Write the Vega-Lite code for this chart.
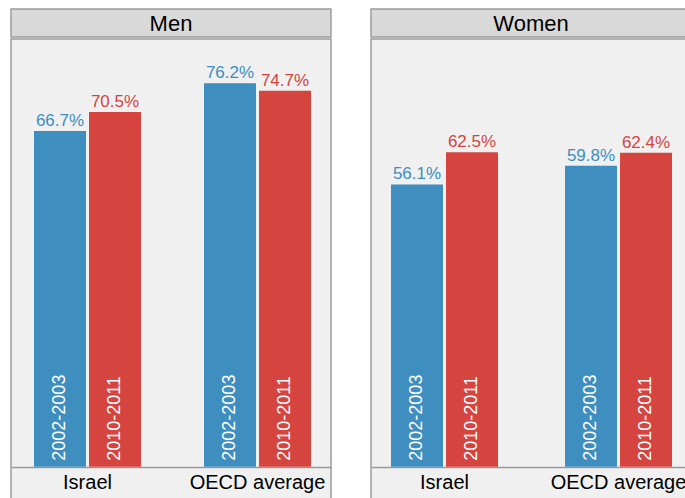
{
  "$schema": "https://vega.github.io/schema/vega-lite/v6.json",
  "autosize": {"type": "none"},
  "padding": {"left": 11, "top": 9, "right": 674, "bottom": 489},
  "background": "white",
  "config": {
    "font": "Liberation Sans",
    "axis": {"grid": false}
  },
  "datasets": {
    "bars": [
      {"sex": "Men", "country": "Israel", "period": "2002-2003", "value": 66.7},
      {"sex": "Men", "country": "Israel", "period": "2010-2011", "value": 70.5},
      {"sex": "Men", "country": "OECD average", "period": "2002-2003", "value": 76.2},
      {"sex": "Men", "country": "OECD average", "period": "2010-2011", "value": 74.7},
      {"sex": "Women", "country": "Israel", "period": "2002-2003", "value": 56.1},
      {"sex": "Women", "country": "Israel", "period": "2010-2011", "value": 62.5},
      {"sex": "Women", "country": "OECD average", "period": "2002-2003", "value": 59.8},
      {"sex": "Women", "country": "OECD average", "period": "2010-2011", "value": 62.4}
    ],
    "panels": [{"sex": "Men"}, {"sex": "Women"}]
  },
  "spacing": 38,
  "hconcat": [
    {
      "spacing": 0,
      "vconcat": [
        {
          "data": {"name": "panels"},
          "transform": [{"filter": "datum.sex === 'Men'"}],
          "width": 320,
          "height": 28,
          "view": {"fill": "#d9d9d9", "stroke": "#9c9c9c", "strokeWidth": 1.5},
          "mark": {"type": "text", "fontSize": 22, "baseline": "middle", "dy": 1, "color": "black"},
          "encoding": {"text": {"field": "sex"}}
        },
        {
          "data": {"name": "bars"},
          "width": 320,
          "height": 478,
          "view": {"fill": "#eff0ef", "stroke": "#9c9c9c", "strokeWidth": 1.5},
          "transform": [
            {"filter": "datum.sex === 'Men'"},
            {"calculate": "format(datum.value, '.1f') + '%'", "as": "label"}
          ],
          "encoding": {
            "x": {
              "field": "country", "type": "nominal",
              "scale": {"paddingInner": 0.3706, "paddingOuter": 0.1265, "align": 0.535},
              "axis": {"title": null, "offset": -50, "domainColor": "#999999", "domainWidth": 1.5, "ticks": false, "labelFontSize": 20, "labelPadding": 5, "labelColor": "black", "labelAngle": 0}
            },
            "xOffset": {"field": "period", "type": "nominal", "scale": {"paddingInner": 0.055, "paddingOuter": 0}}
          },
          "layer": [
            {
              "mark": {"type": "bar"},
              "encoding": {
                "y": {"field": "value", "type": "quantitative", "scale": {"domain": [-10, 85], "nice": false, "zero": false}, "axis": null},
                "y2": {"datum": 0},
                "color": {"field": "period", "type": "nominal", "scale": {"domain": ["2002-2003", "2010-2011"], "range": ["#3e8ec0", "#d5443f"]}, "legend": null}
              }
            },
            {
              "mark": {"type": "text", "baseline": "bottom", "fontSize": 17, "dy": -1},
              "encoding": {
                "y": {"field": "value", "type": "quantitative"},
                "text": {"field": "label"},
                "color": {"field": "period", "type": "nominal", "legend": null}
              }
            },
            {
              "mark": {"type": "text", "angle": 270, "align": "left", "baseline": "middle", "fontSize": 18, "dx": 6, "color": "white"},
              "encoding": {
                "y": {"datum": 0},
                "text": {"field": "period"}
              }
            }
          ]
        }
      ]
    },
    {
      "spacing": 0,
      "vconcat": [
        {
          "data": {"name": "panels"},
          "transform": [{"filter": "datum.sex === 'Women'"}],
          "width": 320,
          "height": 28,
          "view": {"fill": "#d9d9d9", "stroke": "#9c9c9c", "strokeWidth": 1.5},
          "mark": {"type": "text", "fontSize": 22, "baseline": "middle", "dy": 1, "color": "black"},
          "encoding": {"text": {"field": "sex"}}
        },
        {
          "data": {"name": "bars"},
          "width": 320,
          "height": 478,
          "view": {"fill": "#eff0ef", "stroke": "#9c9c9c", "strokeWidth": 1.5},
          "transform": [
            {"filter": "datum.sex === 'Women'"},
            {"calculate": "format(datum.value, '.1f') + '%'", "as": "label"}
          ],
          "encoding": {
            "x": {
              "field": "country", "type": "nominal",
              "scale": {"paddingInner": 0.385, "paddingOuter": 0.112, "align": 0.513},
              "axis": {"title": null, "offset": -50, "domainColor": "#999999", "domainWidth": 1.5, "ticks": false, "labelFontSize": 20, "labelPadding": 5, "labelColor": "black", "labelAngle": 0}
            },
            "xOffset": {"field": "period", "type": "nominal", "scale": {"paddingInner": 0.055, "paddingOuter": 0}}
          },
          "layer": [
            {
              "mark": {"type": "bar"},
              "encoding": {
                "y": {"field": "value", "type": "quantitative", "scale": {"domain": [-10, 85], "nice": false, "zero": false}, "axis": null},
                "y2": {"datum": 0},
                "color": {"field": "period", "type": "nominal", "scale": {"domain": ["2002-2003", "2010-2011"], "range": ["#3e8ec0", "#d5443f"]}, "legend": null}
              }
            },
            {
              "mark": {"type": "text", "baseline": "bottom", "fontSize": 17, "dy": -1},
              "encoding": {
                "y": {"field": "value", "type": "quantitative"},
                "text": {"field": "label"},
                "color": {"field": "period", "type": "nominal", "legend": null}
              }
            },
            {
              "mark": {"type": "text", "angle": 270, "align": "left", "baseline": "middle", "fontSize": 18, "dx": 6, "color": "white"},
              "encoding": {
                "y": {"datum": 0},
                "text": {"field": "period"}
              }
            }
          ]
        }
      ]
    }
  ]
}
